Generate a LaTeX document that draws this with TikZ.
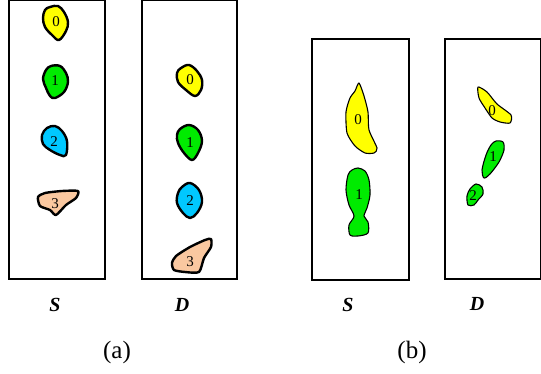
\documentclass[tikz,border=0pt]{standalone}
\usepackage{fontspec}
\setmainfont{Liberation Serif}
\usepackage{tikz}

\definecolor{blobyellow}{RGB}{255,255,0}
\definecolor{blobgreen}{RGB}{0,235,0}
\definecolor{blobcyan}{RGB}{0,200,255}
\definecolor{blobpeach}{RGB}{250,200,160}

\begin{document}
\begin{tikzpicture}[x=1pt, y=-1pt,
  frame/.style={draw, line width=1.4pt},
  thickblob/.style={draw, line width=2.4pt, line join=round},
  thinblob/.style={draw, line width=1.1pt, line join=round},
  num/.style={font=\fontsize{15}{15}\selectfont, inner sep=0pt},
  side/.style={font=\fontsize{20}{20}\selectfont\bfseries\itshape, inner sep=0pt},
  sub/.style={font=\fontsize{25}{25}\selectfont, inner sep=0pt}
]
\useasboundingbox (0,0) rectangle (541,374);

% Panel (a): frames
\draw[frame] (9,0) rectangle (105,279);
\draw[frame] (142,0) rectangle (237,279);

% Panel (a): S
\draw[thickblob, fill=blobyellow] plot[smooth cycle, tension=0.6] coordinates
  {(50,7) (58,6) (64,12) (68,22) (66,31) (59,40) (52,35) (45,27) (43,18) (45,10)};
\draw[thickblob, fill=blobgreen] plot[smooth cycle, tension=0.6] coordinates
  {(51,66) (60,66) (66,73) (68,82) (64,92) (55,98) (50,96) (46,88) (43,79) (46,70)};
\draw[thickblob, fill=blobcyan] plot[smooth cycle, tension=0.6] coordinates
  {(47,128) (55,126) (62,131) (67,141) (66,155) (60,155) (50,150) (43,144) (42,135)};
\draw[thickblob, fill=blobpeach] plot[smooth cycle, tension=0.4] coordinates
  {(38,197) (45,193) (62,191) (78,191) (76,198) (66,205) (56,215) (50,210) (40,206)};
\node[num] (sa0) at (56,22) {0};
\node[num] (sa1) at (55,81) {1};
\node[num] (sa2) at (54,142) {2};
\node[num] (sa3) at (55,204) {3};

% Panel (a): D
\draw[thickblob, fill=blobyellow] plot[smooth cycle, tension=0.6] coordinates
  {(181,68) (189,65) (197,71) (202,80) (201,90) (195,96) (186,90) (178,82) (177,73)};
\draw[thickblob, fill=blobgreen] plot[smooth cycle, tension=0.6] coordinates
  {(180,129) (189,125) (198,130) (202,141) (198,153) (192,160) (184,153) (178,143) (177,135)};
\draw[thickblob, fill=blobcyan] plot[smooth cycle, tension=0.6] coordinates
  {(182,187) (190,183) (199,190) (202,202) (197,213) (190,218) (183,213) (177,203) (178,193)};
\draw[thickblob, fill=blobpeach] plot[smooth cycle, tension=0.4] coordinates
  {(176,256) (190,247) (205,240) (211,239) (211,247) (204,258) (199,272) (185,272) (174,270) (172,263)};
\node[num] (da0) at (190,80) {0};
\node[num] (da1) at (190,143) {1};
\node[num] (da2) at (190,201) {2};
\node[num] (da3) at (190,262) {3};

% Panel (b): frames
\draw[frame] (312,39) rectangle (409,280);
\draw[frame] (445,39) rectangle (541,279);

% Panel (b): S
\draw[thinblob, fill=blobyellow] plot[smooth cycle, tension=0.4] coordinates
  {(359,83) (364,96) (368,112) (369,130) (377,148) (374,153) (365,153) (355,146) (347,133) (346,112) (350,98) (355,91)};
\draw[thinblob, fill=blobgreen] plot[smooth cycle, tension=0.5] coordinates
  {(358,168) (365,171) (369,180) (370,195) (367,208) (364,216) (368,222) (368,233) (358,236) (350,235) (349,225) (354,216) (349,205) (346,190) (348,175) (352,170)};
\node[num] (sb0) at (358,120) {0};
\node[num] (sb1) at (359,195) {1};

% Panel (b): D
\draw[thinblob, fill=blobyellow] plot[smooth cycle, tension=0.4] coordinates
  {(478,87) (487,92) (497,104) (511,115) (510,123) (500,122) (492,118) (485,108) (479,98)};
\draw[thinblob, fill=blobgreen] plot[smooth cycle, tension=0.5] coordinates
  {(496,141) (503,142) (504,150) (499,162) (490,174) (484,178) (482,170) (486,155) (491,145)};
\draw[thinblob, fill=blobgreen] plot[smooth cycle, tension=0.5] coordinates
  {(470,189) (476,184) (482,187) (483,194) (478,200) (474,205) (468,205) (467,196)};
\node[num] (db0) at (492,111) {0};
\node[num] (db1) at (493,157) {1};
\node[num] (db2) at (473,196) {2};

% Labels
\node[side] (sa) at (55,305) {S};
\node[side] (da) at (182,305) {D};
\node[side] (sb) at (348,305) {S};
\node[side] (db) at (477,304) {D};
\node[sub] (capa) at (117,352) {(a)};
\node[sub] (capb) at (412,352) {(b)};
\end{tikzpicture}
\end{document}
